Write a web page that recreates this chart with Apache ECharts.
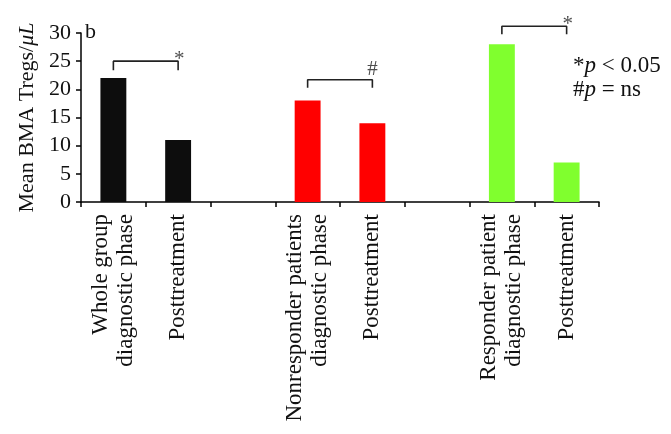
<!DOCTYPE html>
<html lang="en">
<head>
  <meta charset="UTF-8">
  <title>Mean BMA Tregs</title>
  <script src="https://cdn.jsdelivr.net/npm/echarts@6/dist/echarts.min.js"></script>
  <style>
    body { margin: 0; background: #fff; }
    #main { width: 671px; height: 434px; }
  </style>
</head>
<body>
  <div id="main"></div>
  <script>
    // categories (blank ones are the gaps between groups)
    var categories = [
      'Whole group\ndiagnostic phase', 'Posttreatment', '',
      'Nonresponder patients\ndiagnostic phase', 'Posttreatment', '',
      'Responder patient\ndiagnostic phase', 'Posttreatment'
    ]
    var values = [22, 11, null, 18, 14, null, 28, 7]
    var barColors = ['#0d0d0d', '#0d0d0d', null, '#ff0000', '#ff0000', null, '#80ff2e', '#80ff2e']
    var yTicks = [0, 30, 5]  // min, max, interval

    // significance brackets: from, to, top value, foot value, mark
    var bracketFrom = [0, 3, 6]
    var bracketTo = [1, 4, 7]
    var bracketTop = [25, 21.7, 31.2]
    var bracketFoot = [23.4, 20.3, 29.8]
    var bracketMark = ['*', '#', '*']

    var serif = '"Liberation Serif", "DejaVu Serif", serif'
    var fs = 22

    var chart = echarts.init(document.getElementById('main'))

    var series = [{
      type: 'bar',
      barWidth: '40%',
      data: values.map(function (v, i) {
        return v == null ? '-' : { value: v, itemStyle: { color: barColors[i] } }
      }),
      animation: false
    }]

    bracketFrom.forEach(function (f, k) {
      var t = bracketTo[k]
      var isStar = bracketMark[k] == '*'
      series.push({
        type: 'line',
        clip: false,
        symbol: 'none',
        silent: true,
        animation: false,
        lineStyle: { color: '#222', width: 1.6 },
        data: [[f, bracketFoot[k]], [f, bracketTop[k]], [t, bracketTop[k]], [t, bracketFoot[k]]]
      })
      series.push({
        type: 'scatter',
        clip: false,
        symbolSize: 0,
        silent: true,
        animation: false,
        label: {
          show: true,
          position: 'top',
          distance: 0,
          offset: isStar ? [1, 9] : [0, 0],
          formatter: bracketMark[k],
          color: '#222',
          fontFamily: serif,
          fontSize: 21
        },
        data: [[t, bracketTop[k]]]
      })
    })

    var option = {
      animation: false,
      grid: { left: 81, right: 72, top: 33, bottom: 232 },
      xAxis: {
        type: 'category',
        data: categories,
        axisLine: { lineStyle: { color: '#000', width: 1.5 } },
        axisTick: { show: true, length: 5, lineStyle: { color: '#000', width: 1.5 } },
        axisLabel: {
          rotate: 90,
          interval: 0,
          margin: 12,
          color: '#111',
          fontFamily: serif,
          fontSize: 23,
          lineHeight: 25
        }
      },
      yAxis: {
        type: 'value',
        min: yTicks[0],
        max: yTicks[1],
        interval: yTicks[2],
        name: 'Mean BMA Tregs/{i|μL}',
        nameLocation: 'middle',
        nameGap: 32,
        nameTextStyle: {
          color: '#111',
          fontFamily: serif,
          fontSize: fs,
          rich: { i: { fontStyle: 'italic', fontFamily: serif, fontSize: fs, color: '#111' } }
        },
        splitLine: { show: false },
        axisLine: { show: true, lineStyle: { color: '#000', width: 1.5 } },
        axisTick: { show: true, length: 5, lineStyle: { color: '#000', width: 1.5 } },
        axisLabel: { color: '#111', fontFamily: serif, fontSize: fs, margin: 10 }
      },
      graphic: [
        {
          type: 'text', left: 85, top: 21,
          style: { text: 'b', fill: '#111', font: fs + 'px ' + serif }
        },
        {
          type: 'text', left: 573, top: 54,
          style: {
            text: '*{i|p} < 0.05\n#{i|p} = ns',
            fill: '#111',
            font: '23px ' + serif,
            lineHeight: 24,
            rich: { i: { fontStyle: 'italic', fontSize: 23, fontFamily: serif } }
          }
        }
      ],
      series: series
    }
    chart.setOption(option)
  </script>
</body>
</html>
